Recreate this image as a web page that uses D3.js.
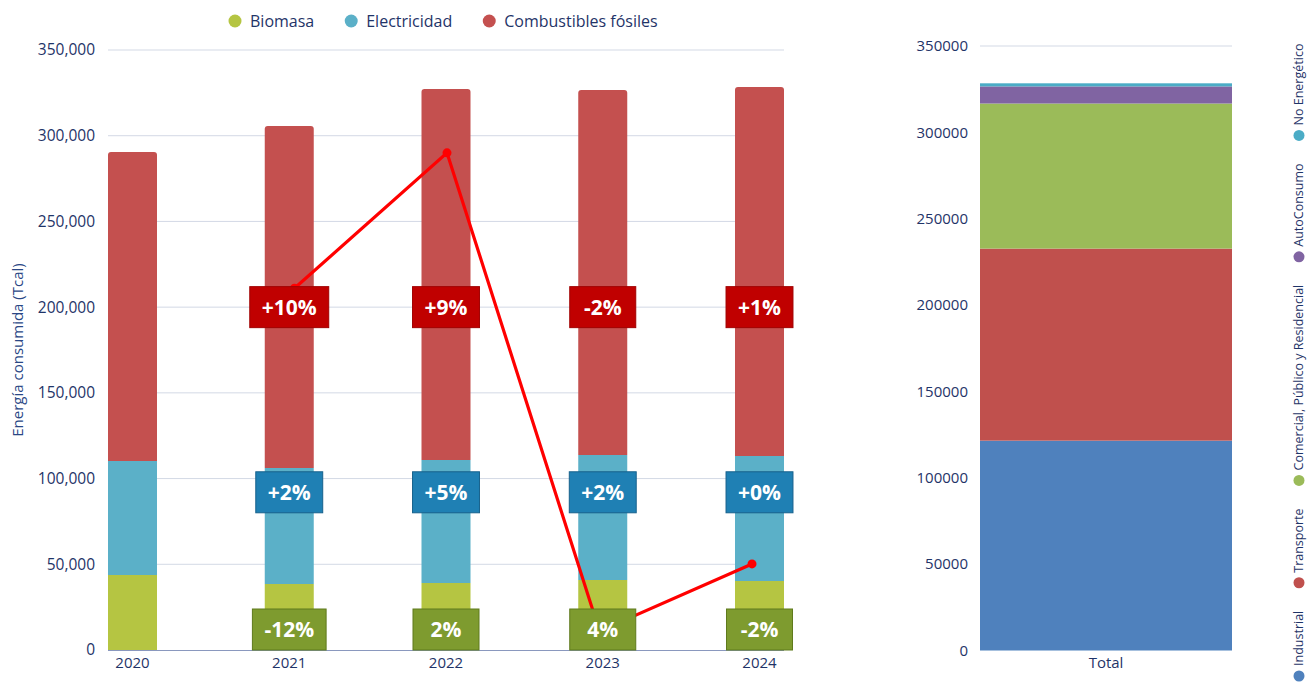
<!DOCTYPE html>
<html>
<head>
<meta charset="utf-8">
<script src="https://cdn.jsdelivr.net/npm/d3@7"></script>
<style>
  html, body { margin: 0; padding: 0; background: #ffffff; }
  svg { display: block; font-family: "Open Sans", "Noto Sans", sans-serif; }
</style>
</head>
<body>
<svg id="chart" width="1307" height="682"></svg>
<script>
// ---------------- DATA ----------------
const years = ["2020", "2021", "2022", "2023", "2024"];
const seriesNames = ["Biomasa", "Electricidad", "Combustibles fósiles"];
const biomasa = [43700, 38500, 39100, 40800, 40200];
const electricidad = [66500, 67700, 71700, 72900, 72900];
const fosiles = [180300, 199500, 216500, 213000, 215300];
const biomasaChange = ["", "-12%", "2%", "4%", "-2%"];
const electricidadChange = ["", "+2%", "+5%", "+2%", "+0%"];
const fosilesChange = ["", "+10%", "+9%", "-2%", "+1%"];
const lineYears = [2021, 2022, 2023, 2024];
const lineValues = [211000, 290000, 11000, 50200];
const yTicks = [0, 50000, 100000, 150000, 200000, 250000, 300000, 350000];

const sectorNames = ["Industrial", "Transporte", "Comercial, Público y Residencial", "AutoConsumo", "No Energético"];
const sectorValues = [121500, 111200, 84000, 9900, 1800];
const totalCategory = ["Total"];
const y2Ticks = [0, 50000, 100000, 150000, 200000, 250000, 300000, 350000];

// ---------------- STYLE ----------------
const seriesColors = ["#B5C542", "#5BB0C8", "#C4504F"];
const sectorColors = ["#4F81BD", "#C0504D", "#9BBB59", "#8064A2", "#4BACC6"];
const textColor = "#1F3468";
const gridColor = "#D3D9E5";

const svg = d3.select("#chart");

// ---------------- LEFT CHART ----------------
const x = d3.scaleBand().domain(years).range([108, 784]).paddingInner(0.6874).paddingOuter(0);
const y = d3.scaleLinear().domain([0, 350000]).range([650, 50]);
const xLine = d3.scaleLinear().domain([2020, 2024]).range([142, 752]);

// gridlines
svg.append("g").selectAll("line").data(yTicks.filter(d => d > 0)).join("line")
  .attr("x1", 108).attr("x2", 784)
  .attr("y1", d => y(d)).attr("y2", d => y(d))
  .attr("stroke", gridColor).attr("stroke-width", 1);

// y axis labels
const yAxis = svg.append("g").attr("transform", "translate(108,0)")
  .call(d3.axisLeft(y).tickValues(yTicks).tickFormat(d3.format(",")).tickSize(0).tickPadding(13));
yAxis.select(".domain").remove();
yAxis.selectAll("text").attr("fill", textColor).style("font-size", "15.5px")
  .style("font-family", "'Open Sans', sans-serif");

// axis title
svg.append("text")
  .attr("transform", "translate(23,350) rotate(-90)")
  .attr("text-anchor", "middle")
  .attr("fill", "#2A4785")
  .style("font-size", "15px")
  .text("Energía consumida (Tcal)");

// stacked data
const rows = years.map((yr, i) => ({ year: yr, "Biomasa": biomasa[i], "Electricidad": electricidad[i], "Combustibles fósiles": fosiles[i] }));
const stack = d3.stack().keys(seriesNames)(rows);

function roundedTopRect(x0, y0, w, h, r) {
  r = Math.min(r, h, w / 2);
  return `M${x0},${y0 + h} V${y0 + r} Q${x0},${y0} ${x0 + r},${y0} H${x0 + w - r} Q${x0 + w},${y0} ${x0 + w},${y0 + r} V${y0 + h} Z`;
}

stack.forEach((layer, li) => {
  svg.append("g").selectAll("path").data(layer).join("path")
    .attr("d", d => {
      const x0 = x(d.data.year), w = x.bandwidth();
      const yt = y(d[1]), yb = y(d[0]);
      const r = li === seriesNames.length - 1 ? 3 : 0;
      return roundedTopRect(x0, yt, w, yb - yt, r);
    })
    .attr("fill", seriesColors[li]);
});

// x axis line
svg.append("line").attr("x1", 108).attr("x2", 784).attr("y1", 650.5).attr("y2", 650.5)
  .attr("stroke", "#8A98BE").attr("stroke-width", 1);

// x axis labels
const xAxis = svg.append("g").attr("transform", "translate(0,650)")
  .call(d3.axisBottom(x).tickSize(0).tickPadding(7));
xAxis.select(".domain").remove();
xAxis.selectAll("text").attr("fill", textColor).style("font-size", "15px")
  .style("font-family", "'Open Sans', sans-serif");

// red line
const lineData = lineYears.map((yr, i) => ({ yr, v: lineValues[i] }));
svg.append("path").datum(lineData)
  .attr("d", d3.line().x(d => xLine(d.yr)).y(d => y(d.v)))
  .attr("fill", "none").attr("stroke", "#FF0000").attr("stroke-width", 3.2);
svg.append("g").selectAll("circle").data(lineData).join("circle")
  .attr("cx", d => xLine(d.yr)).attr("cy", d => y(d.v)).attr("r", 4.5).attr("fill", "#FF0000");

// change labels
function drawLabels(labels, centerValue, fill, stroke, anchorBottom) {
  const g = svg.append("g");
  labels.forEach((lab, i) => {
    if (!lab) return;
    const cx = x(years[i]) + x.bandwidth() / 2;
    const h = 41;
    const cy = anchorBottom ? y(0) - h / 2 : y(centerValue);
    const t = g.append("text")
      .attr("x", cx).attr("y", cy).attr("dy", "0.36em")
      .attr("text-anchor", "middle")
      .attr("fill", "#ffffff").style("font-size", "21px").style("font-weight", "700")
      .text(lab);
    const tw = t.node().getComputedTextLength();
    const w = Math.max(66, tw + 24);
    g.insert("rect", "text")
      .attr("x", cx - w / 2).attr("y", cy - h / 2).attr("width", w).attr("height", h)
      .attr("fill", fill).attr("stroke", stroke).attr("stroke-width", 1);
  });
}
drawLabels(fosilesChange, 200000, "#C00000", "#A00000", false);
drawLabels(electricidadChange, 92000, "#1F80B4", "#17618C", false);
drawLabels(biomasaChange, 0, "#7E9B2F", "#5F7A1C", true);

// top legend
const legend = svg.append("g");
let lx = 235;
seriesNames.forEach((name, i) => {
  legend.append("circle").attr("cx", lx).attr("cy", 21).attr("r", 6.5).attr("fill", seriesColors[i]);
  const t = legend.append("text").attr("x", lx + 15).attr("y", 21).attr("dy", "0.35em")
    .attr("fill", textColor).style("font-size", "16px").text(name);
  lx = lx + 15 + t.node().getComputedTextLength() + 37;
});

// ---------------- RIGHT CHART ----------------
const x2 = d3.scaleBand().domain(totalCategory).range([980, 1232]).padding(0);
const y2 = d3.scaleLinear().domain([0, 350000]).range([650.5, 46]);

svg.append("g").selectAll("line").data(y2Ticks.filter(d => d > 0)).join("line")
  .attr("x1", 980).attr("x2", 1232)
  .attr("y1", d => y2(d)).attr("y2", d => y2(d))
  .attr("stroke", gridColor).attr("stroke-width", 1);

const y2Axis = svg.append("g").attr("transform", "translate(980,0)")
  .call(d3.axisLeft(y2).tickValues(y2Ticks).tickFormat(d3.format("d")).tickSize(0).tickPadding(12));
y2Axis.select(".domain").remove();
y2Axis.selectAll("text").attr("fill", textColor).style("font-size", "15px")
  .style("font-family", "'Open Sans', sans-serif");

const sectorRow = [Object.fromEntries(sectorNames.map((n, i) => [n, sectorValues[i]]))];
sectorRow[0].cat = "Total";
const stack2 = d3.stack().keys(sectorNames)(sectorRow);
svg.append("g").selectAll("rect").data(stack2).join("rect")
  .attr("x", x2("Total")).attr("width", x2.bandwidth())
  .attr("y", d => y2(d[0][1])).attr("height", d => y2(d[0][0]) - y2(d[0][1]))
  .attr("fill", (d, i) => sectorColors[i]);

const x2Axis = svg.append("g").attr("transform", "translate(0,650)")
  .call(d3.axisBottom(x2).tickSize(0).tickPadding(7));
x2Axis.select(".domain").remove();
x2Axis.selectAll("text").attr("fill", textColor).style("font-size", "15px")
  .style("font-family", "'Open Sans', sans-serif");

// rotated legend on the right
const legend2 = svg.append("g").attr("transform", "translate(1299,682) rotate(-90)");
let lx2 = 6;
sectorNames.forEach((name, i) => {
  legend2.append("circle").attr("cx", lx2).attr("cy", 0).attr("r", 5.5).attr("fill", sectorColors[i]);
  const t = legend2.append("text").attr("x", lx2 + 10).attr("y", 0).attr("dy", "0.35em")
    .attr("fill", textColor).style("font-size", "12.5px").text(name);
  lx2 = lx2 + 10 + t.node().getComputedTextLength() + 28;
});
</script>
</body>
</html>
